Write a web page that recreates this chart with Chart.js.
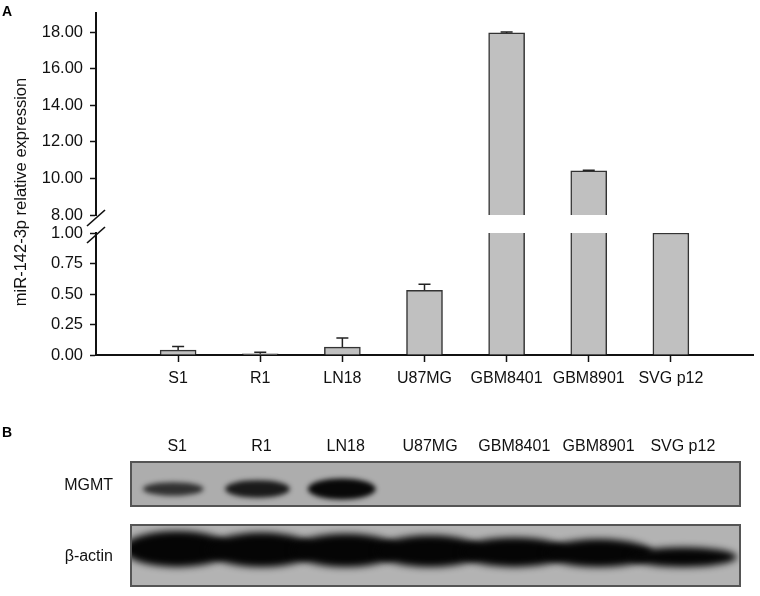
<!DOCTYPE html>
<html><head><meta charset="utf-8">
<script src="https://cdn.jsdelivr.net/npm/chart.js@4.4.1/dist/chart.umd.min.js"></script>
<style>
html,body{margin:0;padding:0;background:#fff;}
#wrap{position:relative;width:760px;height:596px;overflow:hidden;background:#fff;}
#c1{position:absolute;left:0;top:0;}
#c2{position:absolute;left:0;top:400px;}
</style></head><body>
<div id="wrap">
<canvas id="c1" width="760" height="400"></canvas>
<canvas id="c2" width="760" height="196"></canvas>
</div>
<script>
// ---------- data ----------
const categories = ['S1', 'R1', 'LN18', 'U87MG', 'GBM8401', 'GBM8901', 'SVG p12'];
const expression = [0.04, 0.01, 0.065, 0.53, 17.95, 10.42, 1.00];
const expressionErr = [0.03, 0.012, 0.075, 0.05, 0.05, 0.03, 0];
const upperTicks = [8, 10, 12, 14, 16, 18];
const lowerTicks = [0, 0.25, 0.5, 0.75, 1];
const breakLow = 1;
const breakHigh = 8;
const blotRows = ['MGMT', 'β-actin'];
const mgmtLevel = [0.55, 0.8, 1.0, 0, 0, 0, 0];
const actinLevel = [1.0, 0.97, 0.95, 0.92, 0.88, 0.85, 0.7];

// ---------- shared style ----------
Chart.defaults.font.family = "'Liberation Sans', Arial, Helvetica, sans-serif";
Chart.defaults.color = '#111';
const barFill = '#c0c0c0';
const barEdge = '#333333';
const noPad = s => { s.paddingTop = 0; s.paddingBottom = 0; s.paddingLeft = 0; s.paddingRight = 0; };
const fixW = w => s => { s.width = w; noPad(s); };
const fixH = h => s => { s.height = h; noPad(s); };
const hidden = {ticks: {display: false}, grid: {display: false, drawTicks: false}, border: {display: false}};

const lowerData = expression.map((v, i) => ({x: i + 1, y: Math.min(v, breakLow)}));
const upperData = expression.map((v, i) => ({x: i + 1, y: v > breakHigh ? v : null}));

const errorBars = {
  id: 'errorBars',
  afterDatasetsDraw(chart) {
    const {ctx, scales: {x, yTop, yBot}} = chart;
    ctx.save();
    ctx.strokeStyle = '#222';
    ctx.lineWidth = 1.5;
    expression.forEach((v, i) => {
      const e = expressionErr[i];
      if (!e) return;
      const s = v > breakHigh ? yTop : yBot;
      const px = x.getPixelForValue(i + 1);
      const y0 = s.getPixelForValue(v), y1 = s.getPixelForValue(v + e);
      ctx.beginPath();
      ctx.moveTo(px, y0); ctx.lineTo(px, y1);
      ctx.moveTo(px - 6, y1); ctx.lineTo(px + 6, y1);
      ctx.stroke();
    });
    ctx.restore();
  }
};

const axisBreak = {
  id: 'axisBreak',
  afterDraw(chart) {
    const {ctx, scales: {yTop, yBot}} = chart;
    const ax = yTop.right;
    ctx.save();
    ctx.strokeStyle = '#111';
    ctx.lineWidth = 1.6;
    [yTop.bottom + 3, yBot.top + 2].forEach(cy => {
      ctx.beginPath();
      ctx.moveTo(ax - 9, cy + 8);
      ctx.lineTo(ax + 9, cy - 8);
      ctx.stroke();
    });
    ctx.font = "bold 14px 'Liberation Sans', Arial, sans-serif";
    ctx.fillStyle = '#000';
    ctx.textBaseline = 'alphabetic';
    ctx.fillText('A', 2, 16);
    ctx.restore();
  }
};

const yTickStyle = {font: {size: 16.5}, color: '#111', padding: 7, autoSkip: false, callback: v => Number(v).toFixed(2)};
const yGrid = {display: true, drawOnChartArea: false, drawTicks: true, tickLength: 6, tickWidth: 1.5, tickColor: '#111'};
const yBorder = {display: true, color: '#111', width: 2};

new Chart(document.getElementById('c1'), {
  type: 'bar',
  data: {
    datasets: [
      {
        data: lowerData, xAxisID: 'x', yAxisID: 'yBot', grouped: false,
        backgroundColor: barFill, borderColor: barEdge, barThickness: 36,
        borderWidth: ctx => expression[ctx.dataIndex] > breakLow
          ? {top: 0, left: 1.5, right: 1.5, bottom: 0}
          : {top: 1.5, left: 1.5, right: 1.5, bottom: 0}
      },
      {
        data: upperData, xAxisID: 'x', yAxisID: 'yTop', grouped: false,
        backgroundColor: barFill, borderColor: barEdge, barThickness: 36,
        borderWidth: {top: 1.5, left: 1.5, right: 1.5, bottom: 0}
      }
    ]
  },
  options: {
    responsive: false,
    animation: false,
    layout: {padding: {top: 13, right: 7, bottom: 0, left: 0}, autoPadding: false},
    plugins: {legend: {display: false}, tooltip: {enabled: false}},
    scales: {
      x: {
        type: 'linear', position: 'bottom', min: 0, max: 8, offset: false, bounds: 'data',
        afterBuildTicks: s => { s.ticks = categories.map((c, i) => ({value: i + 1})); },
        afterFit: fixH(45),
        ticks: {font: {size: 16}, color: '#111', padding: 7, autoSkip: false, maxRotation: 0,
                callback: v => categories[v - 1] ?? ''},
        grid: {display: true, drawOnChartArea: false, drawTicks: true, tickLength: 7, tickWidth: 1.5, tickColor: '#111', offset: false},
        border: {display: true, color: '#111', width: 2}
      },
      yTitlePad: Object.assign({type: 'linear', position: 'left', stack: 'title', stackWeight: 16, weight: 10,
        min: 0, max: 1, afterFit: fixW(30)}, hidden),
      yTitle: Object.assign({type: 'linear', position: 'left', stack: 'title', stackWeight: 326, weight: 9,
        min: 0, max: 1, afterFit: fixW(30),
        title: {display: true, text: 'miR-142-3p relative expression', font: {size: 16.5}, color: '#111', padding: {top: 12, bottom: 0}}}, hidden),
      yTop: {
        type: 'linear', position: 'left', stack: 'data', stackWeight: 202, weight: 8,
        min: breakHigh, max: 19.04, bounds: 'data',
        afterBuildTicks: s => { s.ticks = upperTicks.map(v => ({value: v})); },
        afterFit: fixW(66), ticks: yTickStyle, grid: yGrid, border: yBorder
      },
      yGap: Object.assign({type: 'linear', position: 'left', stack: 'data', stackWeight: 18, weight: 7,
        min: 0, max: 1, afterFit: fixW(66)}, hidden),
      yBot: {
        type: 'linear', position: 'left', stack: 'data', stackWeight: 122, weight: 6,
        min: 0, max: breakLow, bounds: 'data',
        afterBuildTicks: s => { s.ticks = lowerTicks.map(v => ({value: v})); },
        afterFit: fixW(66), ticks: yTickStyle, grid: yGrid, border: yBorder
      }
    }
  },
  plugins: [errorBars, axisBreak]
});

// ---------- panel B: western blot ----------
const blotPlugin = {
  id: 'blot',
  beforeDatasetsDraw(chart) {
    const {ctx, chartArea: a} = chart;
    const panels = [
      {top: a.top, h: 46, bg: '#adadad', levels: mgmtLevel, ds: 0},
      {top: a.bottom - 63, h: 63, bg: '#b3b3b3', levels: actinLevel, ds: 1}
    ];
    panels.forEach(p => {
      const w = a.right - a.left;
      ctx.save();
      ctx.fillStyle = p.bg;
      ctx.fillRect(a.left, p.top, w, p.h);
      ctx.beginPath();
      ctx.rect(a.left + 1, p.top + 1, w - 2, p.h - 2);
      ctx.clip();
      const pts = chart.getDatasetMeta(p.ds).data;
      p.levels.forEach((L, i) => {
        if (!L) return;
        const el = pts[i];
        ctx.save();
        if (p.ds === 0) {
          ctx.filter = 'blur(2.5px)';
          ctx.fillStyle = 'rgba(8,8,8,' + (0.45 + 0.55 * L) + ')';
          ctx.beginPath();
          ctx.ellipse(el.x - 4, el.y + 3, 26 + 8 * L, 2 + 8.5 * L, 0, 0, Math.PI * 2);
          ctx.fill();
        } else {
          ctx.filter = 'blur(3.5px)';
          ctx.fillStyle = '#050505';
          ctx.beginPath();
          ctx.ellipse(el.x, el.y - 8 + 27 * (1 - L), 54, -9 + 27 * L, 0, 0, Math.PI * 2);
          ctx.fill();
        }
        ctx.restore();
      });
      ctx.restore();
      ctx.save();
      ctx.strokeStyle = '#555';
      ctx.lineWidth = 2;
      ctx.strokeRect(a.left + 1, p.top + 1, w - 2, p.h - 2);
      ctx.restore();
    });
  },
  afterDraw(chart) {
    const {ctx} = chart;
    ctx.save();
    ctx.font = "bold 14px 'Liberation Sans', Arial, sans-serif";
    ctx.fillStyle = '#000';
    ctx.textBaseline = 'alphabetic';
    ctx.fillText('B', 2, 37);
    ctx.restore();
  }
};

new Chart(document.getElementById('c2'), {
  type: 'scatter',
  data: {
    datasets: blotRows.map((r, k) => ({
      label: r,
      data: categories.map((c, i) => ({x: i + 1, y: k})),
      pointRadius: 0, pointHoverRadius: 0, showLine: false
    }))
  },
  options: {
    responsive: false,
    animation: false,
    layout: {padding: {top: 0, right: 19, bottom: 9, left: 0}, autoPadding: false},
    plugins: {legend: {display: false}, tooltip: {enabled: false}},
    scales: {
      x: {
        type: 'linear', position: 'top', min: 0.44, max: 7.69, bounds: 'data',
        afterBuildTicks: s => { s.ticks = categories.map((c, i) => ({value: i + 1})); },
        afterFit: fixH(61),
        ticks: {font: {size: 16}, color: '#111', padding: 5, autoSkip: false, maxRotation: 0,
                callback: v => categories[v - 1] ?? ''},
        grid: {display: false, drawTicks: false}, border: {display: false}
      },
      y: {
        type: 'linear', position: 'left', reverse: true, min: -0.352, max: 1.423, bounds: 'data',
        afterBuildTicks: s => { s.ticks = blotRows.map((r, k) => ({value: k})); },
        afterFit: fixW(130),
        ticks: {font: {size: 16}, color: '#111', padding: 17, autoSkip: false, callback: v => blotRows[v] ?? ''},
        grid: {display: false, drawTicks: false}, border: {display: false}
      }
    }
  },
  plugins: [blotPlugin]
});
</script>
</body></html>
